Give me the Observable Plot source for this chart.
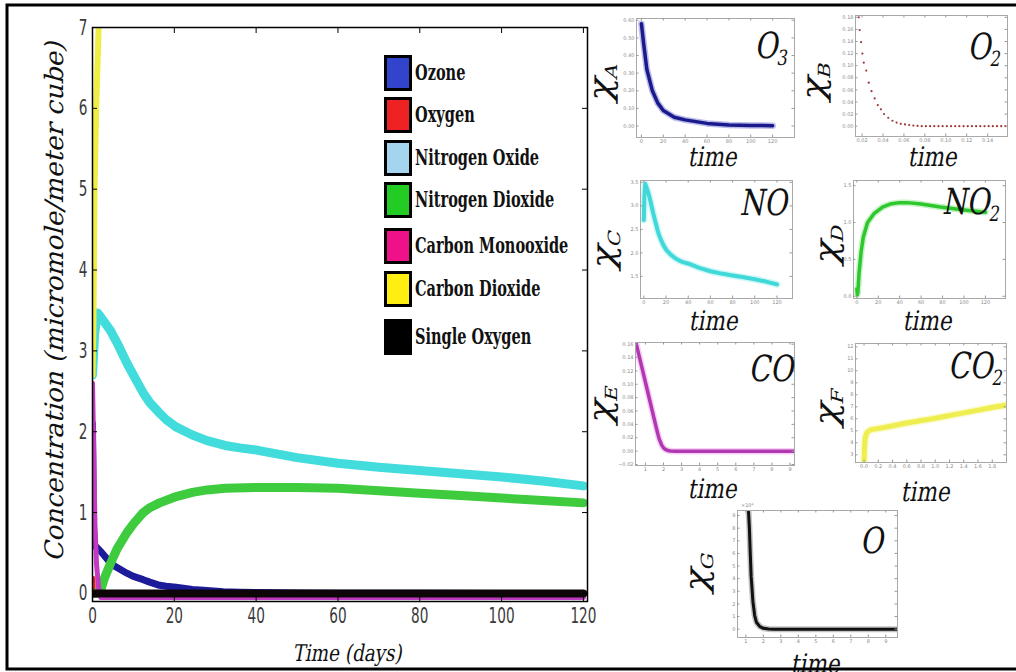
<!DOCTYPE html>
<html><head><meta charset="utf-8">
<script src="https://cdn.jsdelivr.net/npm/d3@7"></script>
<script src="https://cdn.jsdelivr.net/npm/@observablehq/plot@0.6"></script>
<style>
body{margin:0;background:#fff;}
#root{position:relative;width:1016px;height:672px;overflow:hidden;background:#fff;}
.lg-sw{position:absolute;box-sizing:border-box;border:3px solid #000;}
.lg-tx{position:absolute;font-family:"DejaVu Serif","Liberation Serif","Noto Serif",serif;font-weight:bold;font-size:22px;line-height:24px;color:#111;white-space:nowrap;transform:scaleX(0.66);transform-origin:0 50%;}
</style></head><body><div id="root"></div>
<script>
// ---------- DATA: main chart ----------
const speciesNames = ["Ozone","Oxygen","Nitrogen Oxide","Nitrogen Dioxide","Carbon Monooxide","Carbon Dioxide","Single Oxygen"];
const mainTicksX = [0,20,40,60,80,100,120];
const mainTicksY = [0,1,2,3,4,5,6,7];

const ozoneT = [0,0.2,0.4,1,2,4.4,6,8.4,10,12.4,14,16.4,18,20.4,24.4,28,32,36,40,50,60,80,100,120];
const ozoneC = [2.1,0.9,0.6,0.57,0.52,0.375,0.32,0.25,0.21,0.17,0.14,0.1,0.088,0.075,0.05,0.035,0.022,0.015,0.01,0.005,0.002,0.001,0,0];
const oxygenT = [0,0.05,0.1,120];
const oxygenC = [0.18,0.05,0,0];
const noT = [0,0.5,1.2,2,3,4.4,6,8.4,10,12.4,14,16.4,18,20.4,24.4,28,32.4,36,40.4,50,60,70,80,90,100,110,120];
const noC = [2.7,3.2,3.47,3.42,3.35,3.25,3.1,2.85,2.7,2.48,2.36,2.23,2.15,2.06,1.96,1.89,1.83,1.8,1.77,1.68,1.61,1.56,1.52,1.48,1.44,1.39,1.33];
const no2T = [0,1,2,3,4.4,6,8.4,10,12.4,14,16.4,20,24.4,28,32.4,40,50,60,70,80,90,100,110,120];
const no2C = [0,0,0.04,0.2,0.37,0.55,0.75,0.86,1.0,1.06,1.12,1.19,1.25,1.28,1.3,1.31,1.31,1.3,1.27,1.24,1.21,1.18,1.15,1.12];
const coT = [0,0.3,0.6,1.0,1.5,2,5,120];
const coC = [2.65,1.8,0.9,0.4,0.12,0,0,0];
const co2T = [0,0.2,0.5,0.9,1.5,2.0];
const co2C = [2.7,3.2,5.0,6.0,7.0,7.5];
const singleOT = [0,120];
const singleOC = [0,0];

// ---------- DATA: insets ----------
const insA_T = [0,2,5,10,15,20,30,40,60,80,100,120];
const insA_C = [0.58,0.47,0.32,0.2,0.13,0.088,0.05,0.035,0.015,0.006,0.003,0.002];
const insA_xt = [0,20,40,60,80,100,120];
const insA_yt = [0,0.1,0.2,0.3,0.4,0.5,0.6];

const insB_T = [0.0168,0.0177,0.019,0.0203,0.0216,0.024,0.0264,0.029,0.032,0.035,0.038,0.041,0.045,0.049,0.053,0.057,0.061,0.065,0.069,0.073,0.077,0.081,0.085,0.089,0.093,0.097,0.101,0.105,0.109,0.113,0.117,0.121,0.125,0.129,0.133,0.137,0.141,0.145,0.149,0.153,0.157];
const insB_C = [0.18,0.159,0.139,0.12,0.105,0.092,0.072,0.058,0.046,0.035,0.028,0.02,0.014,0.009,0.006,0.004,0.003,0.002,0.001,0.0005,0,0,0,0,0,0,0,0,0,0,0,0,0,0,0,0,0,0,0,0,0];
const insB_xt = [0.02,0.04,0.06,0.08,0.1,0.12,0.14];
const insB_yt = [0,0.02,0.04,0.06,0.08,0.1,0.12,0.14,0.16,0.18];

const insC_xt = [0,20,40,60,80,100,120];
const insC_yt = [1.5,2,2.5,3,3.5];

const insD_T = [0,0.5,1,2,4,6,10,16,24,31,40,47,60,78,100,120];
const insD_C = [0.1,0.02,0.05,0.3,0.6,0.8,1.0,1.12,1.21,1.25,1.27,1.27,1.25,1.21,1.17,1.14];
const insD_xt = [0,20,40,60,80,100,120];
const insD_yt = [0,0.5,1,1.5];

const insE_T = [0.45,0.7,1.0,1.3,1.6,1.75,1.9,2.0,2.1,2.25,2.4,2.7,9.25];
const insE_C = [0.165,0.137,0.103,0.069,0.035,0.019,0.009,0.005,0.0025,0.0008,0.0002,0,0];
const insE_xt = [1,2,3,4,5,6,7,8,9];
const insE_yt = [-0.02,0,0.02,0.04,0.06,0.08,0.1,0.12,0.14,0.16];

const insF_T = [0,0.005,0.01,0.02,0.04,0.07,0.1,0.3,0.6,1.0,1.4,1.8,2.0];
const insF_C = [2.4,3.3,4.0,4.5,4.85,5.0,5.1,5.3,5.65,6.05,6.5,6.95,7.15];
const insF_xt = [0,0.2,0.4,0.6,0.8,1,1.2,1.4,1.6,1.8];
const insF_yt = [3,4,5,6,7,8,9,10,11,12];

const insG_T = [1.15,1.2,1.25,1.3,1.4,1.5,1.6,1.8,2.0,2.3,2.6,3,9.7];
const insG_C = [9.3,8.0,6.0,4.2,2.2,1.1,0.55,0.2,0.07,0.02,0,0,0];
const insG_xt = [1,2,3,4,5,6,7,8,9];
const insG_yt = [0,1,2,3,4,5,6,7,8,9];

// ---------- helpers ----------
const rows = (ts, cs) => ts.map((t,i) => ({t, c: cs[i]}));
const root = document.getElementById("root");
function place(el, left, top){ el.style.position="absolute"; el.style.left=left+"px"; el.style.top=top+"px"; root.appendChild(el); }
function squeezeTicks(svg, k){
  svg.querySelectorAll('g[aria-label$="tick label"] text').forEach(t => {
    const tr = t.getAttribute("transform") || "";
    t.setAttribute("transform", tr + ` scale(${k},1)`);
  });
}

// ---------- main chart ----------
const MW=600, MH=640, ML=92, MR=13, MT=27, MB=39;
const pw=MW-ML-MR, ph=MH-MT-MB;
const lineStyles = [
  {t:ozoneT,c:ozoneC,stroke:"#1c1c9a",w:7},
  {t:oxygenT,c:oxygenC,stroke:"#dd2222",w:6},
  {t:noT,c:noC,stroke:"#42dcdc",w:9},
  {t:no2T,c:no2C,stroke:"#3ecc3e",w:9},
  {t:coT,c:coC,stroke:"#c23ac2",w:5,dy:4},
  {t:co2T,c:co2C,stroke:"#eeee44",w:6},
  {t:singleOT,c:singleOC,stroke:"#0d0508",w:8}
];
const mainPlot = Plot.plot({
  width: MW, height: MH, marginLeft: ML, marginRight: MR, marginTop: MT, marginBottom: MB,
  x: {domain:[0,121], ticks: mainTicksX, tickSize:0, tickPadding:6, label:null},
  y: {domain:[-0.1,7], ticks: mainTicksY, tickSize:0, tickPadding:5, label:null},
  style: {fontFamily:'"DejaVu Sans",sans-serif', fontSize:"22px", color:"#3a3a3a", background:"transparent", overflow:"visible"},
  marks: [
    ...lineStyles.map(s => Plot.line(rows(s.t, s.c), {x:"t", y:"c", stroke:s.stroke, strokeWidth:s.w, dy:s.dy||0, clip:true, strokeLinecap:"round", strokeLinejoin:"round"})),
    Plot.frame({stroke:"#000", strokeWidth:1.5}),
    Plot.ruleX(mainTicksX, {x:d=>d, insetTop: ph-6, stroke:"#000"}),
    Plot.ruleX(mainTicksX, {x:d=>d, insetBottom: ph-6, stroke:"#000"}),
    Plot.ruleY(mainTicksY, {y:d=>d, insetRight: pw-5, stroke:"#000"}),
    Plot.ruleY(mainTicksY, {y:d=>d, insetLeft: pw-5, stroke:"#000"})
  ]
});
squeezeTicks(mainPlot, 0.62);
place(mainPlot, 0, 0);

// ---------- legend ----------
const legendColors = ["#3344cc","#ee2222","#a4d4ee","#22cc22","#ee1188","#ffee11","#000000"];
const legendY = [73,115,158,200,246,289,337];
speciesNames.forEach((name,i) => {
  const sw = document.createElement("div");
  sw.className = "lg-sw"; sw.style.background = legendColors[i];
  sw.style.width="28px"; sw.style.height="36px";
  place(sw, 384, legendY[i]-18);
  const tx = document.createElement("div");
  tx.className = "lg-tx"; tx.textContent = name;
  place(tx, 415, legendY[i]-13);
});

// ---------- insets ----------
function inset(cfg){
  const ml=17, mr=3, mt=3, mb=10;
  const fw=cfg.right-cfg.left, fh=cfg.bottom-cfg.top;
  const svg = Plot.plot({
    width: fw+ml+mr, height: fh+mt+mb, marginLeft: ml, marginRight: mr, marginTop: mt, marginBottom: mb,
    x:{domain: cfg.xdom, ticks: cfg.xt, tickSize:0, tickPadding:2, label:null},
    y:{domain: cfg.ydom, ticks: cfg.yt, tickSize:0, tickPadding:2, label:null},
    style:{fontSize:"5px", color:"#8a8a8a", fontFamily:"DejaVu Sans, sans-serif", background:"transparent", overflow:"visible"},
    marks:[
      ...cfg.marks,
      Plot.frame({stroke:"#a8a8a8", strokeWidth:1}),
      Plot.ruleX(cfg.xt, {x:d=>d, insetTop: fh-2.5, stroke:"#999"}),
      Plot.ruleX(cfg.xt, {x:d=>d, insetBottom: fh-2.5, stroke:"#999"}),
      Plot.ruleY(cfg.yt, {y:d=>d, insetRight: fw-2.5, stroke:"#999"}),
      Plot.ruleY(cfg.yt, {y:d=>d, insetLeft: fw-2.5, stroke:"#999"})
    ]
  });
  place(svg, cfg.left-ml, cfg.top-mt);
}
const L = (t,c,stroke,w,halo) => {
  const m = [];
  if (halo) m.push(Plot.line(rows(t,c), {x:"t", y:"c", stroke:halo, strokeWidth:w+3, strokeOpacity:0.5, clip:true, strokeLinecap:"round", strokeLinejoin:"round"}));
  m.push(Plot.line(rows(t,c), {x:"t", y:"c", stroke, strokeWidth:w, clip:true, strokeLinecap:"round", strokeLinejoin:"round"}));
  return m;
};
inset({left:636, top:18, right:794, bottom:137, xdom:[-4.5,140], ydom:[-0.065,0.61], xt:insA_xt, yt:insA_yt,
  marks: L(insA_T, insA_C, "#1a1a8c", 3.5, "#7a7ad8")});
inset({left:855, top:15, right:1007, bottom:136, xdom:[0.0137,0.159], ydom:[-0.017,0.183], xt:insB_xt, yt:insB_yt,
  marks: [Plot.dot(rows(insB_T, insB_C), {x:"t", y:"c", r:1.1, fill:"#a03838", stroke:null})]});
inset({left:640, top:180, right:792, bottom:298, xdom:[-3,134], ydom:[1.03,3.54], xt:insC_xt, yt:insC_yt,
  marks: L(noT, noC, "#40d8d8", 4, "#a0f0f0")});
inset({left:853, top:180, right:1005, bottom:298, xdom:[-3.1,138.75], ydom:[-0.03,1.57], xt:insD_xt, yt:insD_yt,
  marks: L(insD_T, insD_C, "#2ec82e", 3.5, "#90e890")});
inset({left:635, top:342, right:794, bottom:465, xdom:[0.45,9.25], ydom:[-0.0215,0.1625], xt:insE_xt, yt:insE_yt,
  marks: L(insE_T, insE_C, "#b038b0", 3.5, "#f0a0f0")});
inset({left:855, top:343, right:1006, bottom:462, xdom:[-0.12,2.0], ydom:[2.36,12.28], xt:insF_xt, yt:insF_yt,
  marks: L(insF_T, insF_C, "#eeee50", 5, "#f8f8a0")});
inset({left:737, top:510, right:897, bottom:637, xdom:[0.52,9.67], ydom:[-0.66,9.4], xt:insG_xt, yt:insG_yt,
  marks: L(insG_T, insG_C, "#111", 3, "#888")});

// ---------- overlay text (serif, slanted) ----------
const ov = d3.create("svg").attr("width",1016).attr("height",672)
  .style("position","absolute").style("left","0px").style("top","0px").style("pointer-events","none");
const serif = '"DejaVu Serif","Liberation Serif","Noto Serif",serif';
const SK = "skewX(-13)";
// axis titles
ov.append("text").attr("transform",`translate(63,302) rotate(-90) scale(1,0.85) ${SK}`).attr("text-anchor","middle")
  .attr("font-family",serif).attr("font-size",30).attr("fill","#111")
  .attr("textLength",520).attr("lengthAdjust","spacingAndGlyphs")
  .text("Concentration (micromole/meter cube)");
ov.append("text").attr("transform",`translate(347,661) scale(0.8,1) ${SK}`).attr("text-anchor","middle")
  .attr("font-family",serif).attr("font-size",23).attr("fill","#111")
  .text("Time (days)");
// chi labels
const chiLabels = [["A",611,83],["B",824,82],["C",614,250],["D",837,245],["E",611,405],["F",837,408],["G",707,573]];
chiLabels.forEach(([s,bx,cy]) => {
  const t = ov.append("text").attr("transform",`translate(${bx},${cy}) scale(0.8,1) rotate(-90) ${SK}`)
    .attr("text-anchor","middle").attr("font-family",serif).attr("fill","#111");
  t.append("tspan").attr("font-size",40).text("χ");
  t.append("tspan").attr("font-size",21).attr("dy",8).text(s);
});
// species labels
const speciesLabels = [["O","3",788,58],["O","2",1001,59],["NO","",787,215],["NO","2",1000,214],["CO","",793,381],["CO","2",1003,378],["O","",883,553]];
speciesLabels.forEach(([m,sub,ex,by]) => {
  const t = ov.append("text").attr("transform",`translate(${ex},${by}) scale(0.78,1) ${SK}`)
    .attr("text-anchor","end").attr("font-family",serif).attr("fill","#111");
  t.append("tspan").attr("font-size",36).text(m);
  if (sub) t.append("tspan").attr("font-size",21).attr("dy",7).text(sub);
});
// time labels
const timeLabels = [[712,166],[932,166],[713,330],[927,330],[712,498],[925,501],[815,673]];
timeLabels.forEach(([cx,by]) => {
  ov.append("text").attr("transform",`translate(${cx},${by}) scale(0.8,1) ${SK}`).attr("text-anchor","middle")
    .attr("font-family",serif).attr("font-size",27).attr("fill","#111").text("time");
});
ov.append("text").attr("x",741).attr("y",507).attr("font-family","DejaVu Sans, sans-serif").attr("font-size",5).attr("fill","#888").text("×10⁴");
// outer border
ov.append("rect").attr("x",7).attr("y",5).attr("width",1015).attr("height",664)
  .attr("fill","none").attr("stroke","#000").attr("stroke-width",3);
root.appendChild(ov.node());
</script></body></html>
